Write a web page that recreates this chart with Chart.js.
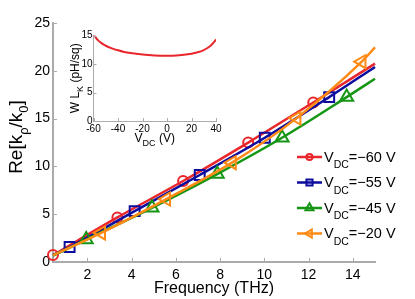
<!DOCTYPE html>
<html><head><meta charset="utf-8">
<script src="https://cdn.jsdelivr.net/npm/chart.js@4"></script>
<style>
html,body{margin:0;padding:0;background:#fff;}
#wrap{position:relative;width:415px;height:299px;overflow:hidden;}
#wrap canvas{position:absolute;left:0;top:0;}
</style>
</head><body>
<div id="wrap"><canvas id="main" width="415" height="299"></canvas><canvas id="inset" width="415" height="299"></canvas></div>
<script>
// ---------- data ----------
const freqTicks = [2, 4, 6, 8, 10, 12, 14];
const reTicks = [0, 5, 10, 15, 20, 25];
const vdcTicks = [-60, -40, -20, 0, 20, 40];
const lkTicks = [0, 5, 10, 15];

const seriesNames = ['=−60 V', '=−55 V', '=−45 V', '=−20 V'];

const redLineX = [0.45, 3.36, 6.33, 9.27, 12.21, 15.0];
const redLineY = [0.72, 4.66, 8.47, 12.49, 16.69, 20.75];
const redMarkX = [0.45, 3.36, 6.33, 9.27, 12.21];
const redMarkY = [0.72, 4.66, 8.47, 12.49, 16.69];

const blueLineX = [0.45, 1.2, 4.14, 7.08, 10.02, 12.93, 15.0];
const blueLineY = [0.7, 1.57, 5.32, 9.1, 13.0, 17.25, 20.4];
const blueMarkX = [1.2, 4.14, 7.08, 10.02, 12.93];
const blueMarkY = [1.57, 5.32, 9.1, 13.0, 17.25];

const greenLineX = [0.45, 1.95, 4.92, 7.87, 10.8, 13.72, 15.0];
const greenLineY = [0.66, 2.35, 5.67, 9.2, 13.0, 17.25, 19.17];
const greenMarkX = [1.95, 4.92, 7.87, 10.8, 13.72];
const greenMarkY = [2.35, 5.67, 9.2, 13.0, 17.25];

const orangeLineX = [0.45, 2.63, 5.57, 8.54, 11.46, 14.4, 15.0];
const orangeLineY = [0.7, 3.04, 6.58, 10.39, 15.05, 20.95, 22.45];
const orangeMarkX = [2.63, 5.57, 8.54, 11.46, 14.4];
const orangeMarkY = [3.04, 6.58, 10.39, 15.05, 20.95];

const vdc = [-60, -58, -56, -54, -52, -50, -45, -40, -35, -30, -20, -10, 0, 10, 20, 25, 30, 33, 36, 38, 40];
const wlk = [15.2, 14.6, 14.1, 13.75, 13.45, 13.2, 12.75, 12.4, 12.12, 11.92, 11.65, 11.5, 11.46, 11.55, 11.8, 12.05, 12.45, 12.8, 13.3, 13.75, 14.3];

// ---------- styles ----------
const RED = '#e8262b', BLUE = '#0c0c9e', GREEN = '#149614', ORANGE = '#ff8a14';
const AXIS = '#ababab';
const FONT = "'Liberation Sans', Arial, Helvetica, sans-serif";

const zip = (xs, ys) => xs.map((x, i) => ({x: x, y: ys[i]}));

const styles = [
  {name: seriesNames[0], color: RED, pointStyle: 'circle', radius: 5, rotation: 0, lx: redLineX, ly: redLineY, mx: redMarkX, my: redMarkY, order: 3},
  {name: seriesNames[1], color: BLUE, pointStyle: 'rect', radius: 7, rotation: 0, lx: blueLineX, ly: blueLineY, mx: blueMarkX, my: blueMarkY, order: 2},
  {name: seriesNames[2], color: GREEN, pointStyle: 'triangle', radius: 7.5, rotation: 0, lx: greenLineX, ly: greenLineY, mx: greenMarkX, my: greenMarkY, order: 1},
  {name: seriesNames[3], color: ORANGE, pointStyle: 'triangle', radius: 7.5, rotation: -90, lx: orangeLineX, ly: orangeLineY, mx: orangeMarkX, my: orangeMarkY, order: 0}
];

const datasets = [];
styles.forEach(s => {
  datasets.push({
    type: 'line', data: zip(s.lx, s.ly), borderColor: s.color, borderWidth: 2.5,
    pointRadius: 0, cubicInterpolationMode: 'monotone', fill: false, order: s.order, clip: false
  });
  datasets.push({
    type: 'line', data: zip(s.mx, s.my), showLine: false, borderColor: s.color,
    backgroundColor: 'rgba(0,0,0,0)', pointStyle: s.pointStyle, pointRadius: s.radius,
    pointRotation: s.rotation, pointBorderWidth: 2, order: s.order, clip: false
  });
});

// draw text with subscripts; parts: [text, size, dy]
function richWidth(ctx, parts) {
  let w = 0;
  for (const p of parts) { ctx.font = p[1] + 'px ' + FONT; w += ctx.measureText(p[0]).width; }
  return w;
}
function drawRich(ctx, parts, x, y) {
  let cx = x;
  for (const p of parts) {
    ctx.font = p[1] + 'px ' + FONT;
    ctx.fillText(p[0], cx, y + (p[2] || 0));
    cx += ctx.measureText(p[0]).width;
  }
}

const inwardTicks = {
  id: 'inwardTicks',
  afterDraw(chart, args, o) {
    const {ctx, chartArea: a, scales} = chart;
    ctx.save();
    ctx.strokeStyle = o.color; ctx.lineWidth = 1;
    for (const v of o.xTicks) {
      const px = Math.round(scales.x.getPixelForValue(v)) + 0.5;
      ctx.beginPath(); ctx.moveTo(px, a.bottom); ctx.lineTo(px, a.bottom - o.len); ctx.stroke();
    }
    for (const v of o.yTicks) {
      const py = Math.round(scales.y.getPixelForValue(v)) + 0.5;
      ctx.beginPath(); ctx.moveTo(a.left, py); ctx.lineTo(a.left + o.len, py); ctx.stroke();
    }
    ctx.restore();
  }
};

const mainDecor = {
  id: 'mainDecor',
  afterDraw(chart) {
    const ctx = chart.ctx;
    ctx.save();
    ctx.fillStyle = '#000';
    ctx.textBaseline = 'alphabetic';
    // x title
    ctx.font = '16px ' + FONT;
    ctx.textAlign = 'center';
    ctx.fillText('Frequency (THz)', (chart.chartArea.left + chart.chartArea.right) / 2, 292.5);
    ctx.textAlign = 'left';
    // y title
    const yparts = [['Re[k', 19, 0], ['ρ', 13, 5.5], ['/k', 19, 0], ['0', 13, 5.5], [']', 19, 0]];
    const w = richWidth(ctx, yparts);
    ctx.translate(22, 137);
    ctx.rotate(-Math.PI / 2);
    drawRich(ctx, yparts, -w / 2, 0);
    ctx.restore();
    // legend
    ctx.save();
    const ys = [157, 182.5, 208, 233.5];
    styles.forEach((s, i) => {
      const y = ys[i];
      ctx.strokeStyle = s.color; ctx.lineWidth = 2.5;
      ctx.beginPath(); ctx.moveTo(297, y); ctx.lineTo(322, y); ctx.stroke();
      ctx.lineWidth = 2;
      ctx.fillStyle = 'rgba(0,0,0,0)';
      Chart.helpers.drawPoint(ctx, {pointStyle: s.pointStyle, radius: s.radius * 0.62, rotation: s.rotation, borderWidth: 2}, 309.5, y);
      ctx.fillStyle = '#000';
      ctx.textAlign = 'left'; ctx.textBaseline = 'alphabetic';
      drawRich(ctx, [['V', 14.5, 0], ['DC', 10.5, 6.5], [s.name, 14.5, 0]], 324, y + 4.5);
    });
    ctx.restore();
  }
};

new Chart(document.getElementById('main'), {
  data: {datasets: datasets},
  options: {
    responsive: false, animation: false, events: [],
    layout: {padding: {left: 0, right: 40, top: 23, bottom: 0}},
    plugins: {legend: {display: false}, tooltip: {enabled: false},
      inwardTicks: {color: AXIS, len: 4, xTicks: freqTicks, yTicks: reTicks}},
    scales: {
      x: {
        type: 'linear', min: 0.45, max: 15,
        afterFit: s => { s.height = 37; },
        afterBuildTicks: s => { s.ticks = freqTicks.map(v => ({value: v})); },
        grid: {display: false, drawTicks: false},
        border: {display: true, color: AXIS, width: 2},
        ticks: {color: '#000', padding: 5, font: {family: FONT, size: 14}, maxRotation: 0, autoSkip: false}
      },
      y: {
        type: 'linear', min: 0, max: 25,
        afterFit: s => { s.width = 53; },
        afterBuildTicks: s => { s.ticks = reTicks.map(v => ({value: v})); },
        grid: {display: false, drawTicks: false},
        border: {display: true, color: AXIS, width: 2},
        ticks: {color: '#000', padding: 3, font: {family: FONT, size: 14}, autoSkip: false}
      }
    }
  },
  plugins: [inwardTicks, mainDecor]
});

// ---------- inset ----------
const insetDecor = {
  id: 'insetDecor',
  afterDraw(chart) {
    const ctx = chart.ctx;
    ctx.save();
    ctx.fillStyle = '#000';
    ctx.textBaseline = 'alphabetic';
    const xparts = [['V', 12, 0], ['DC', 9, 4], [' (V)', 12, 0]];
    const xw = richWidth(ctx, xparts);
    drawRich(ctx, xparts, (chart.chartArea.left + chart.chartArea.right) / 2 - xw / 2, 141.5);
    const yparts = [['W L', 12, 0], ['K', 9, 4], [' (pH/sq)', 12, 0]];
    const yw = richWidth(ctx, yparts);
    ctx.translate(78.5, (chart.chartArea.top + chart.chartArea.bottom) / 2);
    ctx.rotate(-Math.PI / 2);
    drawRich(ctx, yparts, -yw / 2, 0);
    ctx.restore();
  }
};

new Chart(document.getElementById('inset'), {
  type: 'line',
  data: {datasets: [{data: zip(vdc, wlk), borderColor: RED, borderWidth: 2, pointRadius: 0,
    cubicInterpolationMode: 'monotone', fill: false}]},
  options: {
    responsive: false, animation: false, events: [],
    layout: {padding: {left: 0, right: 199, top: 35.5, bottom: 0}},
    plugins: {legend: {display: false}, tooltip: {enabled: false},
      inwardTicks: {color: AXIS, len: 3, xTicks: vdcTicks, yTicks: lkTicks}},
    scales: {
      x: {
        type: 'linear', min: -60, max: 40,
        afterFit: s => { s.height = 178; },
        afterBuildTicks: s => { s.ticks = vdcTicks.map(v => ({value: v})); },
        grid: {display: false, drawTicks: false},
        border: {display: true, color: AXIS, width: 1},
        ticks: {color: '#000', padding: 2, font: {family: FONT, size: 10}, maxRotation: 0, autoSkip: false}
      },
      y: {
        type: 'linear', min: 0, max: 15,
        afterFit: s => { s.width = 93.5; },
        afterBuildTicks: s => { s.ticks = lkTicks.map(v => ({value: v})); },
        grid: {display: false, drawTicks: false},
        border: {display: true, color: AXIS, width: 1},
        ticks: {color: '#000', padding: 1, font: {family: FONT, size: 10}, autoSkip: false}
      }
    }
  },
  plugins: [inwardTicks, insetDecor]
});
</script>
</body></html>
